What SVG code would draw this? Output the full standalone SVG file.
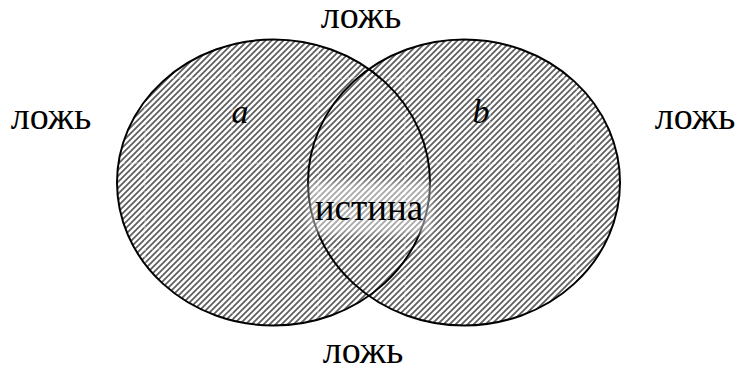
<svg xmlns="http://www.w3.org/2000/svg" width="739" height="370" viewBox="0 0 739 370">
<defs>
<pattern id="hatch" patternUnits="userSpaceOnUse" width="6" height="6">
<rect width="6" height="6" fill="#fff"/>
<path d="M-1.5,1.5 l3,-3 M0,6 l6,-6 M4.5,7.5 l3,-3" stroke="#606060" stroke-width="1.8"/>
</pattern>
<clipPath id="both">
<ellipse cx="273.5" cy="182.5" rx="156.5" ry="143"/>
<ellipse cx="464" cy="182.5" rx="156" ry="143"/>
</clipPath>
<filter id="soft" x="-20%" y="-20%" width="140%" height="140%"><feGaussianBlur stdDeviation="3"/></filter>
</defs>
<style>
.set{fill:url(#hatch);stroke:none}
.edge{fill:none;stroke:#000;stroke-width:2}
.lbl{font-family:"Liberation Serif","Times New Roman",serif;font-size:38px;fill:#000}
.var{font-family:"Liberation Serif","Times New Roman",serif;font-size:34px;font-style:italic;fill:#000}
.grid{stroke:#fff;stroke-width:1;stroke-dasharray:4 3;opacity:0.55}
</style>
<g id="set-a">
<ellipse class="set" cx="273.5" cy="182.5" rx="156.5" ry="143"/>
</g>
<g id="set-b">
<ellipse class="set" cx="464" cy="182.5" rx="156" ry="143"/>
</g>
<g clip-path="url(#both)">
<path class="grid" d="M145,30 V340 M232,30 V340 M318,30 V340 M405,30 V340 M490,30 V340 M576,30 V340 M100,78 H640 M100,163 H640 M100,249 H640"/>
</g>
<g id="outlines">
<ellipse class="edge" cx="273.5" cy="182.5" rx="156.5" ry="143"/>
<ellipse class="edge" cx="464" cy="182.5" rx="156" ry="143"/>
</g>
<g id="intersection">
<rect x="308" y="182" width="124" height="52" fill="#fff" opacity="0.45" filter="url(#soft)"/>
<text class="lbl" x="369" y="220" text-anchor="middle" style="font-size:37px">истина</text>
</g>
<g id="labels">
<text class="var" x="240" y="123" text-anchor="middle">a</text>
<text class="var" x="481" y="123" text-anchor="middle">b</text>
<text class="lbl" x="361" y="28" text-anchor="middle">ложь</text>
<text class="lbl" x="51" y="129" text-anchor="middle">ложь</text>
<text class="lbl" x="695" y="129" text-anchor="middle">ложь</text>
<text class="lbl" x="363" y="363" text-anchor="middle">ложь</text>
</g>
</svg>
